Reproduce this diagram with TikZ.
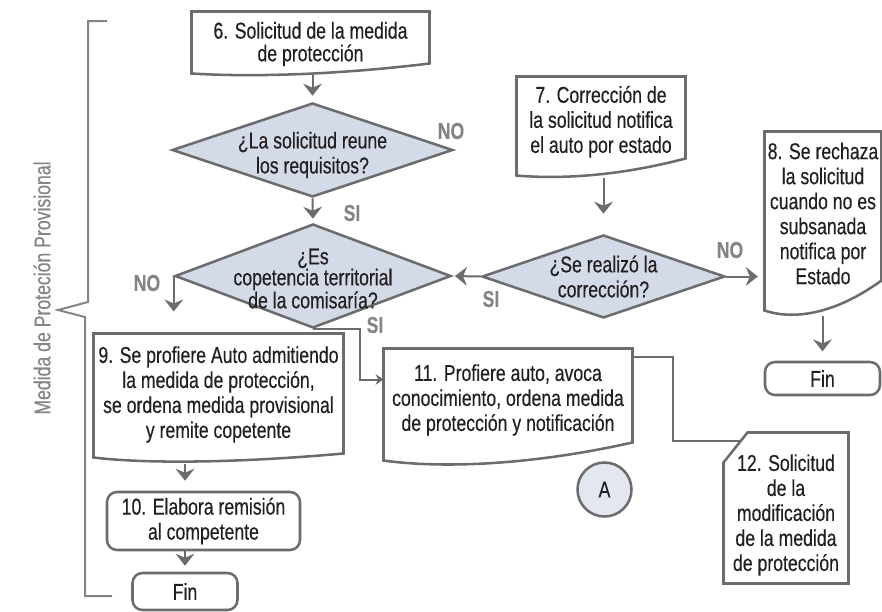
\documentclass[tikz,border=0pt]{standalone}
\usepackage{fontspec}
\setmainfont{Liberation Sans}[FakeStretch=0.77,FakeBold=0.4]
\usetikzlibrary{shapes.geometric,arrows.meta,calc}

\definecolor{lgray}{RGB}{108,108,108}
\definecolor{bgray}{RGB}{132,132,132}
\definecolor{dfill}{RGB}{211,218,232}
\definecolor{cfill}{RGB}{227,231,240}
\definecolor{txt}{RGB}{35,31,32}

\newcommand{\boxfont}{\fontsize{17.2}{18.75}\selectfont}
\newcommand{\tightfont}{\fontsize{17.2}{15.75}\selectfont}
\newcommand{\topfont}{\fontsize{17.2}{17}\selectfont}

% document outline with wavy bottom: node, half drop, dip
\newcommand{\docout}[3]{%
	\draw [outline] (#1.north west) -- (#1.north east) -- ($(#1.south east)+(0,-#2)$) .. controls ($(#1.south west)!0.55!(#1.south east)+(0,#2+#3)$) and ($(#1.south west)!0.2!(#1.south east)+(0,#2+#3)$) .. ($(#1.south west)+(0,#2)$) -- cycle;}

\tikzset{every picture/.style={line width=0.75pt},
	outline/.style={draw=lgray, line width=1.9pt, line join=miter},
	docbox/.style={draw=none, align=center, inner sep=0pt, text=txt, font=\boxfont},
	endbox/.style={draw=lgray, line width=1.9pt, rounded corners=7.5pt, align=center, inner sep=0pt, text=txt, font=\boxfont},
	decision/.style={diamond, draw=lgray, fill=dfill, line width=1.9pt, inner sep=0pt},
	dtext/.style={align=center, inner sep=0pt, text=txt, font=\boxfont},
	dtight/.style={dtext, font=\tightfont},
	conn/.style={circle, draw=lgray, fill=cfill, line width=1.9pt, minimum size=40.5pt, inner sep=0pt, text=txt, font=\boxfont},
	lbl/.style={inner sep=0pt, text=bgray, font=\boxfont\bfseries},
	flow/.style={draw=lgray, line width=1.5pt, -{Stealth[length=9pt,width=14pt,inset=3pt]}},
	smallflow/.style={draw=lgray, line width=1.5pt, -{Stealth[length=6pt,width=8pt,inset=2pt]}},
	brace/.style={draw=bgray, line width=1.5pt}}

\begin{document}
\begin{tikzpicture}[x=0.75pt,y=0.75pt,yscale=-1,xscale=1]
	\useasboundingbox (0,0) rectangle (882,611);

	\draw (310.5,40) node (s6) [docbox, minimum width=177.75pt, minimum height=42pt, label={[dtext, font=\topfont, yshift=-3pt]center:{6. Solicitud de la medida\\de protección}}] {};
	\docout{s6}{5}{3}

	\draw (312.5,150) node (d1) [decision, minimum width=210.75pt, minimum height=70.5pt, label={[dtext, yshift=-3.75pt]center:{¿La solicitud reune\\los requisitos?}}] {};

	\draw (313,276) node (d2) [decision, minimum width=207pt, minimum height=78pt, label={[dtight, yshift=-1.9pt]center:{¿Es\\copetencia territorial\\de la comisaría?}}] {};

	\draw (601,121.75) node (s7) [docbox, minimum width=126pt, minimum height=67.125pt] {7. Corrección de\\la solicitud notifica\\el auto por estado};
	\docout{s7}{8.5}{3}

	\draw (603.5,276.5) node (d3) [decision, minimum width=182.25pt, minimum height=62.25pt, label={[dtext]center:{¿Se realizó la\\corrección?}}] {};

	\draw (823,213.5) node (s8) [docbox, minimum width=87pt, minimum height=122.25pt] {8. Se rechaza\\la solicitud\\cuando no es\\subsanada\\notifica por\\Estado};
	\docout{s8}{15}{8}

	\draw (822.5,378.5) node (f2) [endbox, minimum width=86.25pt, minimum height=24.75pt] {Fin};

	\draw (218.5,394.5) node (s9) [docbox, minimum width=186.75pt, minimum height=90.75pt] {9. Se profiere Auto admitiendo\\la medida de protección,\\se ordena medida provisional\\y remite copetente};
	\docout{s9}{2}{6}

	\draw (203.5,521) node (s10) [endbox, minimum width=144.75pt, minimum height=43.5pt] {10. Elabora remisión\\al competente};

	\draw (185,591.5) node (f1) [endbox, minimum width=78.75pt, minimum height=27.75pt] {Fin};

	\draw (508,400) node (s11) [docbox, minimum width=186pt, minimum height=76.5pt] {11. Profiere auto, avoca\\conocimiento, ordena medida\\de protección y notificación};
	\docout{s11}{9}{7}

	\draw (786,508) node (s12) [docbox, minimum width=93pt, minimum height=112.5pt, label={[dtext, yshift=-5.25pt]center:{12. Solicitud\\de la\\modificación\\de la medida\\de protección}}] {};
	\draw [outline] ($(s12.north west)+(24,0)$) -- (s12.north east) -- (s12.south east) -- (s12.south west) -- ($(s12.north west)+(0,30)$) -- cycle;

	\draw (604.5,489.5) node (A) [conn] {A};

	\draw [flow, shorten >=4.5pt] ($(s6.south -| d1.north)+(0,5)$) -- (d1.north);
	\draw [flow, shorten >=3pt] (d1.south) -- (d2.north);
	\draw [flow, shorten >=16.5pt] (d2.west) -- (d2.west |- s9.north);
	\draw [smallflow] (d2.south) -- ++(47,0) |- ($(s11.north west)+(0,31)$);
	\draw [flow, shorten >=15pt] ($(s7.south -| d3.north)+(0,11)$) -- (d3.north);
	\draw [flow, shorten >=2pt] (d3.west) -- (d2.east);
	\draw [flow, shorten >=5pt] (d3.east) -- (d3.east -| s8.west);
	\draw [flow, shorten >=7pt] ($(s8.south -| f2.north)+(0,20)$) -- (f2.north);
	\draw [flow, shorten >=7.5pt] ($(s9.south -| f1.north)+(0,8)$) -- (s10.north -| f1.north);
	\draw [flow, shorten >=4.5pt] (s10.south -| f1.north) -- (f1.north);
	\draw [outline, line width=1.5pt] ($(s11.north east)+(0,8)$) -- ++(40,0) |- ($(s12.north west)+(17.6,8)$);

	\draw (451,131) node (no1) [lbl] {NO};
	\draw (352,213) node (si1) [lbl] {SI};
	\draw (147,283) node (no2) [lbl] {NO};
	\draw (375,325) node (si2) [lbl] {SI};
	\draw (491,299) node (si3) [lbl] {SI};
	\draw (730,250) node (no3) [lbl] {NO};

	\draw [brace] (107,21) -- (88,21) -- (88,302) -- (58,310) -- (85,317) -- (85,596) -- (112,596);
	\draw (42,288) node (side) [rotate=90, inner sep=0pt, text=bgray, font=\boxfont] {Medida de Proteción Provisional};
\end{tikzpicture}
\end{document}
